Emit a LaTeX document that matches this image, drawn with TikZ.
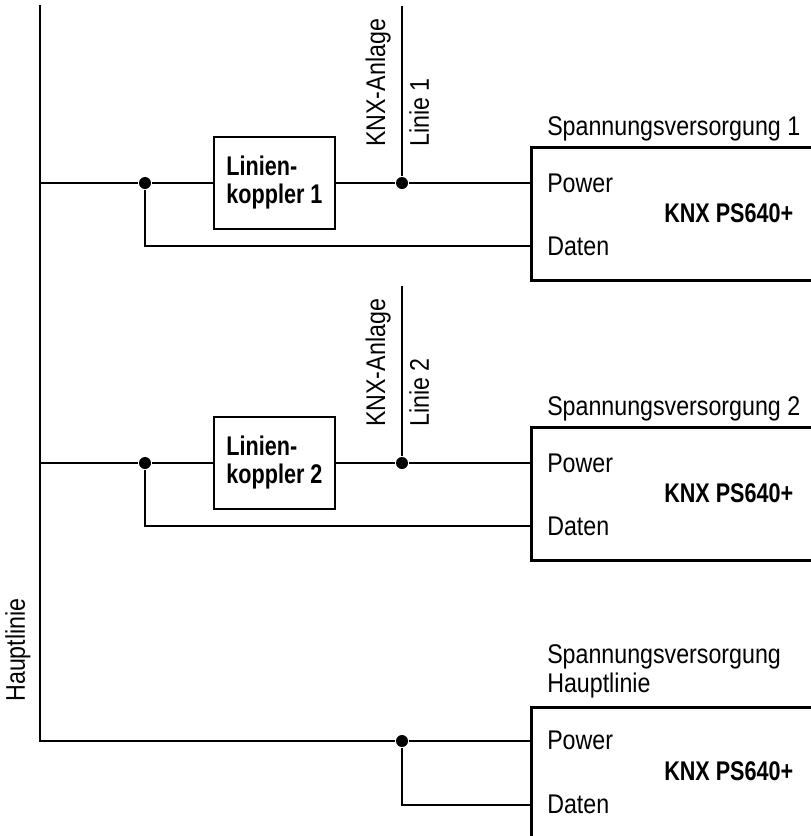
\documentclass[tikz,border=0pt]{standalone}
\usepackage{fontspec}
\setmainfont[FakeStretch=0.86]{Liberation Sans}
\newfontfamily\bcond[FakeStretch=0.8]{Liberation Sans Bold}
\begin{document}
\begin{tikzpicture}[x=1pt,y=-1pt, line width=2.5pt,
  lbl/.style={inner sep=0pt, font=\fontsize{27}{30}\selectfont},
  blbl/.style={inner sep=0pt, font=\fontsize{27}{30}\bcond},
  coupler/.style={draw, minimum width=121pt, minimum height=92pt, inner sep=0pt, align=left, font=\fontsize{27}{28}\bcond},
  psbox/.style={draw, minimum width=320pt, anchor=north west, inner sep=0pt},
  jdot/.style={circle, fill, inner sep=0pt, minimum size=12pt}]
\useasboundingbox (0,0) rectangle (811,836);
% main line
\coordinate (mtop) at (40,5);
\coordinate (mbot) at (40,741);
\node[lbl, rotate=90] (hl) at (18,650) {Hauptlinie};
\foreach \k/\o in {1/0,2/280}{
  \coordinate (bus\k) at (40,183+\o);
  \coordinate (top\k) at (402,6+\o);
  \node[jdot] (j\k) at (145,183+\o) {};
  \node[coupler] (lk\k) at (274.5,183+\o) {Linien-\\koppler \k};
  \node[jdot] (l\k) at (402,183+\o) {};
  \node[psbox, minimum height=133pt] (ps\k) at (530,146+\o) {};
  \coordinate (p\k) at (530,183+\o);
  \coordinate (d\k) at (530,246+\o);
  \node[lbl, anchor=base west] (sv\k) at (546,135+\o) {Spannungsversorgung \k};
  \node[lbl, anchor=base west] (pw\k) at (546,192+\o) {Power};
  \node[lbl, anchor=base west] (dt\k) at (546,255+\o) {Daten};
  \node[blbl, anchor=base west] (knx\k) at (663,222+\o) {KNX PS640+};
  \node[lbl, rotate=90, anchor=south west] (an\k) at (392,148+\o) {KNX-Anlage};
  \node[lbl, rotate=90, anchor=north west] (li\k) at (408,148+\o) {Linie \k};
  \draw (bus\k) -- (j\k) -- (lk\k) -- (l\k) -- (p\k);
  \draw (top\k) -- (l\k);
  \draw (j\k) |- (d\k);
}
% main line power supply
\node[jdot] (j3) at (402,741) {};
\node[psbox, minimum height=200pt] (ps3) at (530,706) {};
\coordinate (p3) at (530,741);
\coordinate (d3) at (530,805);
\node[lbl, anchor=base west] (sv3) at (546,663) {Spannungsversorgung};
\node[lbl, anchor=base west] (sv3b) at (546,692) {Hauptlinie};
\node[lbl, anchor=base west] (pw3) at (546,749) {Power};
\node[lbl, anchor=base west] (dt3) at (546,813) {Daten};
\node[blbl, anchor=base west] (knx3) at (663,780) {KNX PS640+};
\draw (mtop) -- (mbot) -- (j3) -- (p3);
\draw (j3) |- (d3);
\end{tikzpicture}
\end{document}
